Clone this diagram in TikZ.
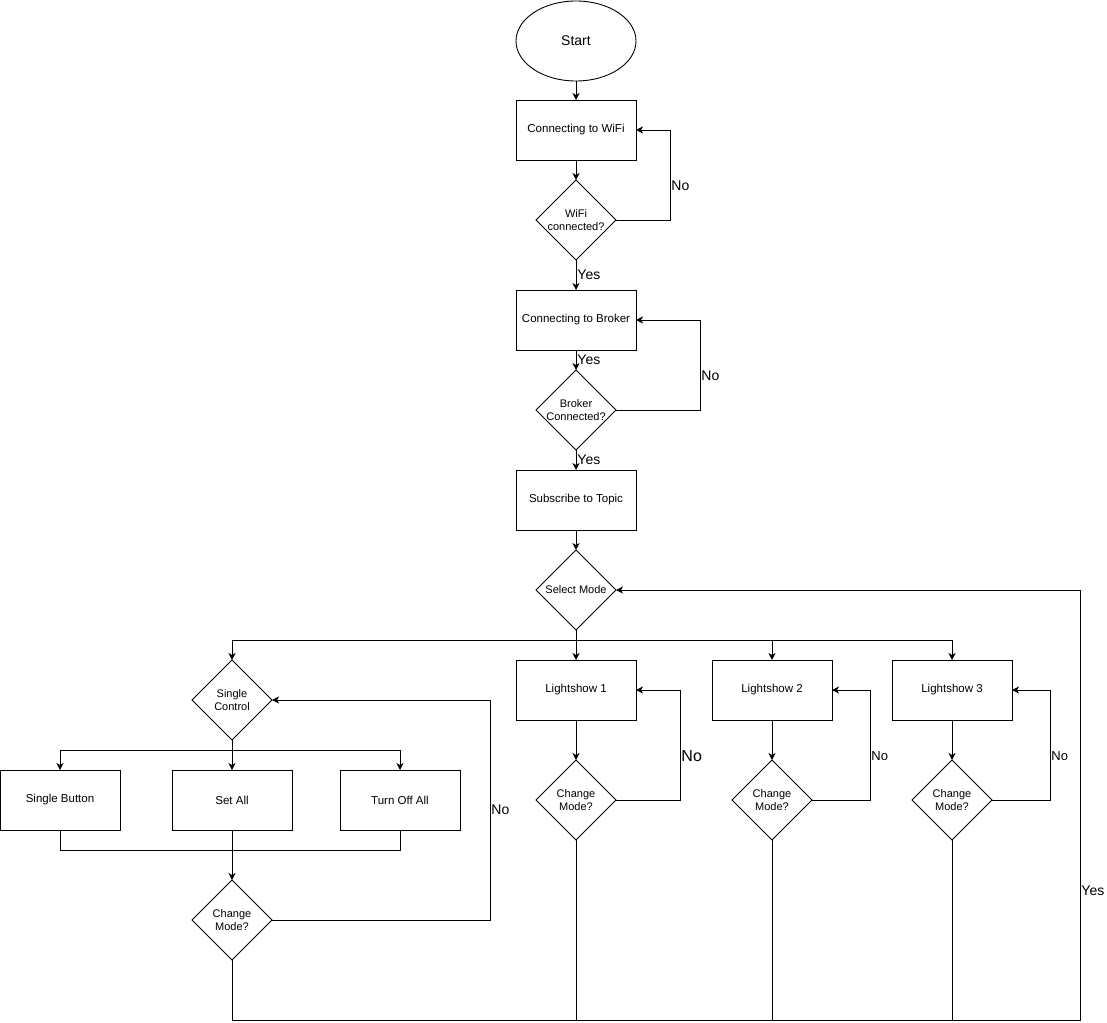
\documentclass[tikz,border=0pt]{standalone}
\usepackage{fontspec}
\setmainfont{Liberation Sans}
\usepackage{tikz}
\usetikzlibrary{positioning}
\usetikzlibrary{arrows.meta}
\usetikzlibrary{shapes.geometric,calc}
\tikzset{main node/.style={rectangle,draw,minimum width=120pt,minimum height=60pt,inner sep=0pt,outer sep=0pt,font=\fontsize{11.5}{13}\selectfont},
	test node/.style={diamond,draw,minimum width=80pt,minimum height=80pt,inner sep=-8pt,outer sep=0pt,align=center,font=\fontsize{11}{13.5}\selectfont},
	start node/.style={ellipse,draw,minimum width=120pt,minimum height=80pt,outer sep=0pt,font=\fontsize{14}{16}\selectfont},
	answer/.style={inner sep=1pt,font=\fontsize{14}{16}\selectfont},}

\begin{document}
\begin{tikzpicture}[x=1pt, y=-1pt, >={Stealth[length=7pt,width=7pt,inset=2pt]}, line width=0.9pt]
		\useasboundingbox (0,0) rectangle (1107,1022);
		\node[start node] (start) at (576,41) {Start};
	    \node[main node] (wifi) [below=19pt of start] {Connecting to WiFi};
	    \node[test node] (wifiok) [below=20pt of wifi] {WiFi\\connected?};
	    \node[main node] (broker) [below=30pt of wifiok] {Connecting to Broker};
	    \node[test node] (brokerok) [below=20pt of broker] {Broker\\Connected?};
	    \node[main node] (topic) [below=20pt of brokerok] {Subscribe to Topic};
	    \node[test node] (mode) [below=20pt of topic] {Select Mode};
	    \node[main node] (ls1) [below=30pt of mode] {Lightshow 1};
	    \node[main node] (ls2) [right=76pt of ls1] {Lightshow 2};
	    \node[main node] (ls3) [right=60pt of ls2] {Lightshow 3};
	    \node[test node] (change1) [below=40pt of ls1] {Change\\Mode?};
	    \node[test node] (change2) [below=40pt of ls2] {Change\\Mode?};
	    \node[test node] (change3) [below=40pt of ls3] {Change\\Mode?};
	    \node[test node] (single) at (232,700) {Single\\Control};
	    \node[main node] (setall) [below=30pt of single] {Set All};
	    \node[main node] (button) [left=52pt of setall] {Single Button};
	    \node[main node] (turnoff) [right=48pt of setall] {Turn Off All};
	    \node[test node] (change0) [below=50pt of setall] {Change\\Mode?};
	
	    \coordinate (split) at (576,640);
	    \coordinate (fork) at (232,750);
	    \coordinate (join) at (232,850);
	    \coordinate (bottom) at (232,1020);
	    \coordinate (corner) at (1080,1020);
	
	    \path[draw,->]
	    (start) edge (wifi)
	    (wifi) edge (wifiok)
	    (wifiok) edge node[answer,right] {Yes} (broker)
	    (broker) edge node[answer,right] {Yes} (brokerok)
	    (brokerok) edge node[answer,right] {Yes} (topic)
	    (topic) edge (mode)
	    (ls1) edge (change1)
	    (ls2) edge (change2)
	    (ls3) edge (change3);
	
	    % retry loops
	    \draw[->] (wifiok.east) -- ++(54pt,0) |- node[answer,right,pos=0.19] {No} (wifi.east);
	    \draw[->] (brokerok.east) -- ++(84pt,0) |- node[answer,right,pos=0.19] {No} (broker.east);
	    \draw[->] (change1.east) -- ++(64pt,0) |- node[answer,right,pos=0.2,font=\fontsize{16}{18}\selectfont] {No} (ls1.east);
	    \draw[->] (change2.east) -- ++(58pt,0) |- node[answer,right,pos=0.2,font=\fontsize{13}{15}\selectfont] {No} (ls2.east);
	    \draw[->] (change3.east) -- ++(58pt,0) |- node[answer,right,pos=0.2,font=\fontsize{13}{15}\selectfont] {No} (ls3.east);
	    \draw[->] (change0.east) -- ++(218pt,0) |- node[answer,right,pos=0.25] {No} (single.east);
	
	    % mode selection
	    \draw (mode.south) -- (split);
	    \draw[->] (split) -- (ls1);
	    \draw[->] (split) -| (single);
	    \draw[->] (split) -| (ls2);
	    \draw[->] (split) -| (ls3);
	
	    % single control
	    \draw (single.south) -- (fork);
	    \draw[->] (fork) -- (setall);
	    \draw[->] (fork) -| (button);
	    \draw[->] (fork) -| (turnoff);
	    \draw (button.south) |- (join) -| (turnoff.south);
	    \draw[->] (setall.south) -- (change0);
	
	    % back to select mode
	    \draw (change1.south) -- (change1.south |- bottom);
	    \draw (change2.south) -- (change2.south |- bottom);
	    \draw (change3.south) -- (change3.south |- bottom);
	    \draw[->] (change0.south) -- (bottom) -- (corner) |- node[answer,right,pos=0.15] {Yes} (mode.east);
	\end{tikzpicture}
\end{document}
